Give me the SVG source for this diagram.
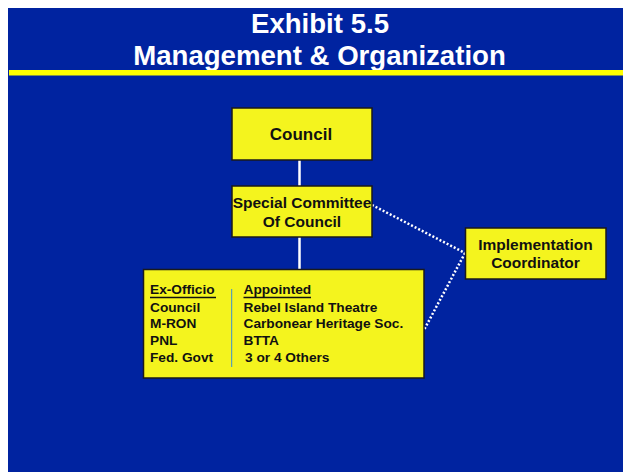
<svg xmlns="http://www.w3.org/2000/svg" width="623" height="472" viewBox="0 0 623 472">
  <style>
    .title { font-family: "Liberation Sans", Arial, sans-serif; font-weight: bold; font-size: 27.6px; fill: #ffffff; text-anchor: middle; }
    .box { fill: #f4f41e; stroke: #1a1a1a; stroke-width: 1.5; }
    .lbl { font-family: "Liberation Sans", Arial, sans-serif; font-weight: bold; fill: #111111; }
    .mid { text-anchor: middle; }
    .solid { stroke: #ffffff; stroke-width: 2.5; fill: none; }
    .dots { stroke: #ffffff; stroke-width: 2.5; stroke-dasharray: 2 2; fill: none; }
  </style>

  <!-- slide background -->
  <rect x="0" y="0" width="623" height="472" fill="#ffffff"/>
  <rect x="8" y="8" width="615" height="464" fill="#0023a0"/>

  <!-- heading -->
  <text class="title" x="320" y="33">Exhibit 5.5</text>
  <text class="title" x="319.5" y="64.5">Management &amp; Organization</text>
  <rect x="9" y="70" width="614" height="5.5" fill="#ffff00"/>

  <!-- connectors -->
  <g id="connectors">
    <line class="solid" x1="299.5" y1="160" x2="299.5" y2="186"/>
    <line class="solid" x1="299.5" y1="237" x2="299.5" y2="269"/>
    <line class="dots" x1="372" y1="205" x2="465" y2="253"/>
    <line class="dots" x1="465" y1="253" x2="424" y2="330"/>
  </g>

  <g id="council">
    <rect class="box" x="232" y="108" width="140" height="52"/>
    <text class="lbl mid" x="301" y="140" font-size="17">Council</text>
  </g>

  <g id="special-committee">
    <rect class="box" x="232" y="186" width="140" height="51"/>
    <text class="lbl mid" x="302" y="208" font-size="15.5">Special Committee</text>
    <text class="lbl mid" x="302" y="227" font-size="15.5">Of Council</text>
  </g>

  <g id="implementation-coordinator">
    <rect class="box" x="465.5" y="228" width="140.5" height="51"/>
    <text class="lbl mid" x="535.5" y="250" font-size="15.5">Implementation</text>
    <text class="lbl mid" x="535.5" y="268" font-size="15.5">Coordinator</text>
  </g>

  <g id="membership">
    <rect class="box" x="143.5" y="269.5" width="280.5" height="108.5"/>
    <line x1="231.7" y1="289" x2="231.7" y2="367" stroke="#3a8fd0" stroke-width="1"/>
    <g class="lbl" font-size="13.7">
      <text x="150" y="294">Ex-Officio</text>
      <text x="150" y="311.5">Council</text>
      <text x="150" y="328">M-RON</text>
      <text x="150" y="345">PNL</text>
      <text x="150" y="361.5">Fed. Govt</text>
      <text x="243.5" y="294">Appointed</text>
      <text x="243.5" y="311.5">Rebel Island Theatre</text>
      <text x="243.5" y="328">Carbonear Heritage Soc.</text>
      <text x="243.5" y="345">BTTA</text>
      <text x="245" y="361.5">3 or 4 Others</text>
    </g>
    <line x1="150" y1="297.5" x2="216" y2="297.5" stroke="#111111" stroke-width="1.5"/>
    <line x1="243.5" y1="297.5" x2="311" y2="297.5" stroke="#111111" stroke-width="1.5"/>
  </g>
</svg>
